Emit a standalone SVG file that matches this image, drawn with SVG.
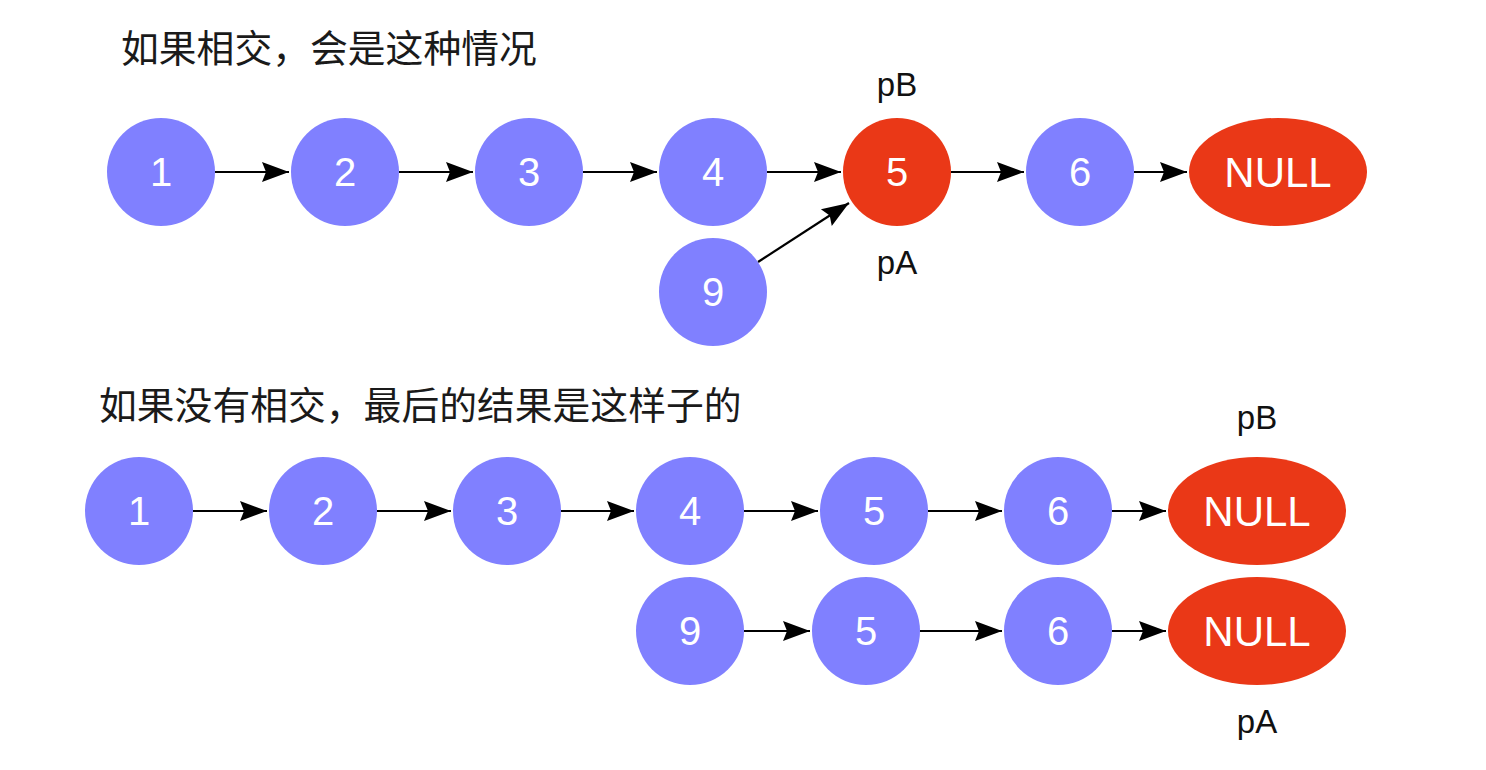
<svg xmlns="http://www.w3.org/2000/svg" width="1486" height="770" viewBox="0 0 1486 770">
<defs>
<marker id="arr" markerWidth="30" markerHeight="22" refX="28" refY="10" orient="auto" markerUnits="userSpaceOnUse" viewBox="0 0 30 22">
<path d="M28,10 L1,0 L5,10 L1,20 Z" fill="#000"/>
</marker>
</defs>
<style>
.b{fill:#8080FF}
.r{fill:#EA3817}
.n{font-family:"Liberation Sans",Arial,sans-serif;font-size:40px;fill:#fff;text-anchor:middle}
.nl{font-family:"Liberation Sans",Arial,sans-serif;font-size:42px;fill:#fff;text-anchor:middle}
.lb{font-family:"Liberation Sans",Arial,sans-serif;font-size:33px;fill:#111;text-anchor:middle}
.t{font-family:"Liberation Sans","Noto Sans CJK SC",sans-serif;font-size:37.8px;fill:#1a1a1a}
.e{stroke:#000;stroke-width:2.2;fill:none;marker-end:url(#arr)}
</style>
<rect width="1486" height="770" fill="#fff"/>
<text class="t" x="121" y="62">如果相交，会是这种情况</text>
<text class="t" x="99" y="419">如果没有相交，最后的结果是这样子的</text>
<g id="labels">
<text class="lb" x="897" y="96">pB</text>
<text class="lb" x="897" y="274">pA</text>
<text class="lb" x="1257" y="429">pB</text>
<text class="lb" x="1257" y="733">pA</text>
</g>
<g id="connectors">
<line class="e" x1="215" y1="172" x2="289" y2="172"/>
<line class="e" x1="399" y1="172" x2="473" y2="172"/>
<line class="e" x1="583" y1="172" x2="657" y2="172"/>
<line class="e" x1="767" y1="172" x2="841" y2="172"/>
<line class="e" x1="951" y1="172" x2="1024" y2="172"/>
<line class="e" x1="1134" y1="172" x2="1187" y2="172"/>
<line class="e" x1="758" y1="262" x2="849" y2="203"/>
<line class="e" x1="193" y1="511" x2="267" y2="511"/>
<line class="e" x1="377" y1="511" x2="451" y2="511"/>
<line class="e" x1="561" y1="511" x2="634" y2="511"/>
<line class="e" x1="744" y1="511" x2="818" y2="511"/>
<line class="e" x1="928" y1="511" x2="1002" y2="511"/>
<line class="e" x1="1112" y1="511" x2="1166" y2="511"/>
<line class="e" x1="744" y1="631" x2="810" y2="631"/>
<line class="e" x1="920" y1="631" x2="1002" y2="631"/>
<line class="e" x1="1112" y1="631" x2="1166" y2="631"/>
</g>
<g id="a1"><circle class="b" cx="161" cy="172" r="54"/><text class="n" x="161" y="186">1</text></g>
<g id="a2"><circle class="b" cx="345" cy="172" r="54"/><text class="n" x="345" y="186">2</text></g>
<g id="a3"><circle class="b" cx="529" cy="172" r="54"/><text class="n" x="529" y="186">3</text></g>
<g id="a4"><circle class="b" cx="713" cy="172" r="54"/><text class="n" x="713" y="186">4</text></g>
<g id="a5"><circle class="r" cx="897" cy="172" r="54"/><text class="n" x="897" y="186">5</text></g>
<g id="a6"><circle class="b" cx="1080" cy="172" r="54"/><text class="n" x="1080" y="186">6</text></g>
<g id="anull"><ellipse class="r" cx="1278" cy="172" rx="89" ry="54"/><text class="nl" x="1278" y="187">NULL</text></g>
<g id="a9"><circle class="b" cx="713" cy="292" r="54"/><text class="n" x="713" y="306">9</text></g>
<g id="b1"><circle class="b" cx="139" cy="511" r="54"/><text class="n" x="139" y="525">1</text></g>
<g id="b2"><circle class="b" cx="323" cy="511" r="54"/><text class="n" x="323" y="525">2</text></g>
<g id="b3"><circle class="b" cx="507" cy="511" r="54"/><text class="n" x="507" y="525">3</text></g>
<g id="b4"><circle class="b" cx="690" cy="511" r="54"/><text class="n" x="690" y="525">4</text></g>
<g id="b5"><circle class="b" cx="874" cy="511" r="54"/><text class="n" x="874" y="525">5</text></g>
<g id="b6"><circle class="b" cx="1058" cy="511" r="54"/><text class="n" x="1058" y="525">6</text></g>
<g id="bnull"><ellipse class="r" cx="1257" cy="511" rx="89" ry="54"/><text class="nl" x="1257" y="526">NULL</text></g>
<g id="c9"><circle class="b" cx="690" cy="631" r="54"/><text class="n" x="690" y="645">9</text></g>
<g id="c5"><circle class="b" cx="866" cy="631" r="54"/><text class="n" x="866" y="645">5</text></g>
<g id="c6"><circle class="b" cx="1058" cy="631" r="54"/><text class="n" x="1058" y="645">6</text></g>
<g id="cnull"><ellipse class="r" cx="1257" cy="631" rx="89" ry="54"/><text class="nl" x="1257" y="646">NULL</text></g>
</svg>
